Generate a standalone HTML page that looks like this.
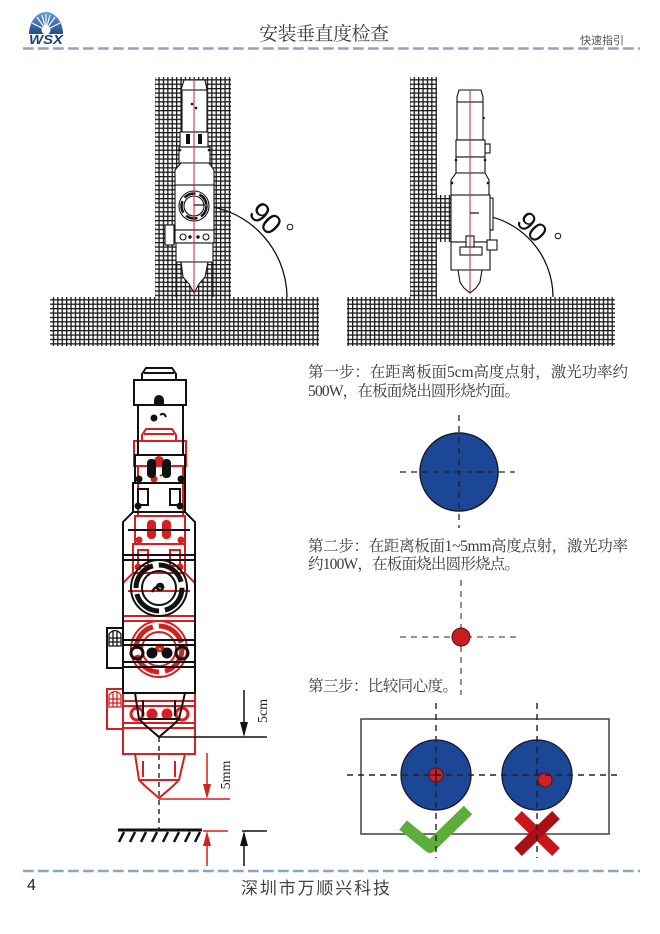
<!DOCTYPE html>
<html><head><meta charset="utf-8">
<style>
html,body{margin:0;padding:0;background:#fff;}
svg{display:block;}
.s{font-family:"Liberation Serif","Noto Serif CJK SC",serif;fill:#3a3a3a;}
.h{font-family:"Liberation Sans","Noto Sans CJK SC",sans-serif;}
</style></head><body>
<svg width="660" height="934" viewBox="0 0 660 934" xmlns="http://www.w3.org/2000/svg">
<defs>
<pattern id="mesh" width="4.4" height="4.4" patternUnits="userSpaceOnUse">
<rect width="4.4" height="4.4" fill="#1a1a1a"/>
<rect x="1.3" y="1.3" width="3.1" height="3.1" fill="#fff"/>
</pattern>
<linearGradient id="lg" x1="0" y1="0" x2="0" y2="1"><stop offset="0" stop-color="#6a9bd2"/><stop offset="1" stop-color="#1d4c8c"/></linearGradient>
<g id="bighead" fill="none" stroke="currentColor" stroke-width="2">
 <path d="M146,368 L172,368 L176,374 L176,380 L142,380 L142,374 Z"/>
 <line x1="144" y1="373" x2="174" y2="373"/>
 <rect x="134" y="380" width="52" height="25"/>
 <rect x="138" y="405" width="45" height="50"/>
 <path d="M155,400 a4,4 0 0 1 8,0 v4 h-8 Z" fill="currentColor"/>
 <circle cx="154" cy="418" r="2.5" fill="currentColor"/>
 <path d="M160,415 q4,-3 6,2" />
 <rect x="135" y="455" width="50" height="28"/>
 <rect x="148" y="460" width="7" height="17" rx="3" fill="currentColor"/>
 <rect x="163" y="460" width="7" height="17" rx="3" fill="currentColor"/>
 <circle cx="139" cy="479" r="2.5" fill="currentColor"/>
 <circle cx="181" cy="479" r="2.5" fill="currentColor"/>
 <rect x="133" y="483" width="52" height="29"/>
 <rect x="138" y="489" width="10" height="16"/>
 <rect x="170" y="489" width="10" height="16"/>
 <circle cx="138" cy="506" r="2.5" fill="currentColor"/>
 <circle cx="180" cy="506" r="2.5" fill="currentColor"/>
 <path d="M133,512 L185,512 L195,522 L195,555 L123,555 L123,522 Z"/>
 <line x1="128" y1="530" x2="190" y2="530"/>
 <rect x="123" y="555" width="72" height="138"/>
 <line x1="123" y1="560" x2="195" y2="560"/>
 <circle cx="159" cy="588" r="28"/>
 <circle cx="159" cy="588" r="23" stroke-width="5" stroke-dasharray="30 6"/>
 <circle cx="159" cy="588" r="17"/>
 <path d="M152,592 q5,-9 12,-4 M160,590 a3,3 0 1 1 0.1,0" stroke-width="2.5"/>
 <line x1="123" y1="640" x2="195" y2="640"/>
 <line x1="123" y1="645" x2="195" y2="645"/>
 <line x1="123" y1="662" x2="195" y2="662"/>
 <line x1="123" y1="667" x2="195" y2="667"/>
 <circle cx="137" cy="653" r="6" stroke-width="3"/>
 <circle cx="182" cy="653" r="6" stroke-width="3"/>
 <circle cx="152" cy="653" r="4.5" fill="currentColor"/>
 <circle cx="167" cy="653" r="4.5" fill="currentColor"/>
 <rect x="107" y="628" width="16" height="40"/>
 <path d="M109,646 L109,634 Q115,627 121,634 L121,646 Z M113,631 V646 M117,631 V646 M109,638 H121 M109,642 H121" stroke-width="1.3"/>
 <path d="M135,693 L185,693 L179,719 L173,725 L159,737 L145,725 L139,719 Z"/>
 <line x1="139" y1="719" x2="179" y2="719"/>
 <line x1="143" y1="700" x2="143" y2="716"/>
 <line x1="175" y1="700" x2="175" y2="716"/>
</g>
</defs>

<!-- header -->
<path d="M29,34 A17,22 0 0 1 63,34 Z" fill="url(#lg)"/>
<g stroke="#fff" stroke-width="1.2">
 <line x1="46" y1="30" x2="46" y2="14"/><line x1="46" y1="30" x2="37" y2="17"/><line x1="46" y1="30" x2="55" y2="17"/>
 <line x1="46" y1="30" x2="32" y2="23"/><line x1="46" y1="30" x2="60" y2="23"/><line x1="46" y1="30" x2="42" y2="15"/><line x1="46" y1="30" x2="50" y2="15"/>
</g>
<circle cx="46" cy="30" r="4.5" fill="#fff"/>
<text x="29" y="44" font-family="Liberation Sans,sans-serif" font-weight="bold" font-style="italic" font-size="13" fill="#1c3f7a" textLength="34" lengthAdjust="spacingAndGlyphs">WSX</text>
<text x="259" y="40" font-family="Liberation Serif,'Noto Serif CJK SC',serif" font-size="19" fill="#3c3c3c" textLength="130">安装垂直度检查</text>
<text x="580" y="44" class="h" font-size="11" fill="#555" textLength="44">快速指引</text>
<line x1="23" y1="48.5" x2="640" y2="48.5" stroke="#8fa3c4" stroke-width="2.6" stroke-dasharray="10.7 4.3"/>

<!-- top-left figure -->
<rect x="155" y="77" width="76" height="220" fill="url(#mesh)"/>
<rect x="50" y="297" width="269" height="49" fill="url(#mesh)"/>
<path d="M194,205 A93,93 0 0 1 287,297" fill="none" stroke="#111" stroke-width="1.3"/>
<line x1="176" y1="262" x2="176" y2="297" stroke="#111" stroke-width="1.1"/>
<line x1="213" y1="262" x2="213" y2="297" stroke="#111" stroke-width="1.1"/>
<g fill="#fff" stroke="#111" stroke-width="1.1">
 <path d="M184,80 L205,80 L207,90 L181,90 Z"/>
 <rect x="182" y="90" width="25" height="42"/>
 <rect x="180" y="132" width="28" height="15"/>
 <rect x="179" y="147" width="31" height="16"/>
 <path d="M181,163 L209,163 L214,170 L214,185 L175,185 L175,170 Z"/>
 <rect x="175" y="185" width="39" height="45"/>
 <rect x="175" y="230" width="39" height="13"/>
 <rect x="176" y="243" width="37" height="19"/>
 <path d="M181,262 L208,262 L205,277 L199,284 L194,293 L189,284 L183,277 Z"/>
 <rect x="165" y="225" width="9" height="20"/>
 <circle cx="194" cy="206" r="15"/>
 <circle cx="194" cy="206" r="10"/>
 <circle cx="183" cy="237" r="3"/><circle cx="206" cy="237" r="3"/>
</g>
<g fill="#111">
 <rect x="186" y="134" width="4" height="10"/><rect x="198" y="134" width="4" height="10"/>
 <circle cx="190" cy="237" r="1.7"/><circle cx="198" cy="237" r="1.7"/>
 <circle cx="192" cy="104" r="1.3"/><circle cx="196" cy="108" r="1.3"/>
 <circle cx="180" cy="150" r="1.3"/><circle cx="209" cy="150" r="1.3"/>
</g>
<circle cx="194" cy="206" r="12.5" fill="none" stroke="#111" stroke-width="2.5" stroke-dasharray="12 4"/>
<line x1="194" y1="79" x2="194" y2="297" stroke="#d42020" stroke-width="1"/>
<line x1="194" y1="205" x2="208" y2="205" stroke="#111" stroke-width="1.2"/>
<text transform="translate(265,219) rotate(45)" text-anchor="middle" dominant-baseline="central" font-family="Liberation Sans,sans-serif" font-size="29" fill="#111">90</text>
<circle cx="290" cy="227" r="2.8" fill="none" stroke="#111" stroke-width="1"/>

<!-- top-right figure -->
<rect x="410" y="77" width="27" height="220" fill="url(#mesh)"/>
<rect x="437" y="195" width="14" height="47" fill="url(#mesh)"/>
<rect x="347" y="297" width="268" height="49" fill="url(#mesh)"/>
<path d="M470,214 A83,83 0 0 1 553,297" fill="none" stroke="#111" stroke-width="1.3"/>
<g fill="#fff" stroke="#111" stroke-width="1.1">
 <path d="M459,90 L481,90 L483,97 L483,102 L457,102 L457,97 Z"/>
 <rect x="457" y="102" width="26" height="38"/>
 <rect x="485" y="144" width="5" height="9"/>
 <rect x="456" y="140" width="29" height="17"/>
 <rect x="456" y="157" width="29" height="16"/>
 <path d="M456,173 L485,173 L489,180 L489,195 L451,195 L451,180 Z"/>
 <rect x="489" y="198" width="4" height="32"/>
 <rect x="451" y="195" width="39" height="47"/>
 <rect x="451" y="242" width="39" height="28"/>
 <rect x="487" y="240" width="10" height="10"/>
 <rect x="460" y="247" width="22" height="8"/>
 <rect x="466" y="236" width="8" height="11"/>
 <path d="M458,270 L482,270 L480,282 L476,288 L470,293 L464,288 L460,282 Z"/>
</g>
<g fill="#111">
 <circle cx="456" cy="160" r="1.3"/><circle cx="485" cy="160" r="1.3"/>
 <circle cx="452" cy="183" r="1.3"/><circle cx="488" cy="183" r="1.3"/>
 <circle cx="484" cy="118" r="1"/>
</g>
<line x1="470" y1="90" x2="470" y2="293" stroke="#d42020" stroke-width="1"/>
<line x1="470" y1="213" x2="479" y2="213" stroke="#111" stroke-width="1.2"/>
<text transform="translate(532,227) rotate(45)" text-anchor="middle" dominant-baseline="central" font-family="Liberation Sans,sans-serif" font-size="27" fill="#111">90</text>
<circle cx="558" cy="236" r="2.8" fill="none" stroke="#111" stroke-width="1"/>

<!-- big left drawing -->
<use href="#bighead" transform="translate(0,61)" color="#d81e1e"/>
<use href="#bighead" color="#111"/>
<line x1="159" y1="737" x2="159" y2="830" stroke="#111" stroke-width="1.3" stroke-dasharray="5 4"/>
<line x1="159" y1="737" x2="267" y2="737" stroke="#111" stroke-width="1.5"/>
<line x1="244" y1="690" x2="244" y2="725" stroke="#111" stroke-width="1.5"/>
<polygon points="240,722 248,722 244,737" fill="#111"/>
<text transform="translate(267,711) rotate(-90)" text-anchor="middle" class="s" font-size="14" style="fill:#222">5cm</text>
<line x1="159" y1="799" x2="230" y2="799" stroke="#d81e1e" stroke-width="1.5"/>
<line x1="207" y1="753" x2="207" y2="786" stroke="#d81e1e" stroke-width="1.5"/>
<polygon points="203,784 211,784 207,799" fill="#d81e1e"/>
<text transform="translate(230,775) rotate(-90)" text-anchor="middle" class="s" font-size="14" style="fill:#222">5mm</text>
<line x1="118" y1="830" x2="202" y2="830" stroke="#111" stroke-width="3"/>
<g stroke="#111" stroke-width="2.5">
 <line x1="124" y1="832" x2="119" y2="842"/><line x1="135" y1="832" x2="130" y2="842"/>
 <line x1="146" y1="832" x2="141" y2="842"/><line x1="157" y1="832" x2="152" y2="842"/>
 <line x1="168" y1="832" x2="163" y2="842"/><line x1="179" y1="832" x2="174" y2="842"/>
 <line x1="190" y1="832" x2="185" y2="842"/><line x1="200" y1="832" x2="195" y2="842"/>
</g>
<line x1="203" y1="831" x2="228" y2="831" stroke="#d81e1e" stroke-width="1.5"/>
<line x1="207" y1="843" x2="207" y2="866" stroke="#d81e1e" stroke-width="1.5"/>
<polygon points="203,846 211,846 207,831" fill="#d81e1e"/>
<line x1="242" y1="831" x2="267" y2="831" stroke="#111" stroke-width="1.5"/>
<line x1="244" y1="843" x2="244" y2="866" stroke="#111" stroke-width="1.5"/>
<polygon points="240,846 248,846 244,831" fill="#111"/>

<!-- right column -->
<text x="308" y="377" class="s" font-size="15.5" textLength="320">第一步：在距离板面5cm高度点射，激光功率约</text>
<text x="308" y="396" class="s" font-size="15.5" textLength="212">500W，在板面烧出圆形烧灼面。</text>
<circle cx="459" cy="472" r="39" fill="#1c4796" stroke="#1a1a2a" stroke-width="1.5"/>
<g stroke="#222" stroke-width="1.3" stroke-dasharray="6 5">
 <line x1="400" y1="472" x2="515" y2="472"/>
 <line x1="459" y1="415" x2="459" y2="528"/>
</g>
<text x="308" y="551" class="s" font-size="15.5" textLength="320">第二步：在距离板面1~5mm高度点射，激光功率</text>
<text x="308" y="569" class="s" font-size="15.5" textLength="212">约100W，在板面烧出圆形烧点。</text>
<g stroke="#555" stroke-width="1.3" stroke-dasharray="6 5">
 <line x1="400" y1="637" x2="518" y2="637"/>
 <line x1="461" y1="580" x2="461" y2="695"/>
</g>
<circle cx="461" cy="637" r="9" fill="#c81e22" stroke="#5a1010" stroke-width="1"/>
<text x="308" y="691" class="s" font-size="15.5" textLength="150">第三步：比较同心度。</text>

<rect x="361" y="719" width="248" height="115" fill="none" stroke="#4d3b3b" stroke-width="1.5"/>
<circle cx="436" cy="775" r="35" fill="#1c4796" stroke="#1a1a2a" stroke-width="1.3"/>
<circle cx="537" cy="775" r="35" fill="#1c4796" stroke="#1a1a2a" stroke-width="1.3"/>
<polyline points="403,825 430,847 468,810" fill="none" stroke="#5cad3a" stroke-width="12" stroke-linejoin="round"/>
<line x1="518" y1="815" x2="556" y2="852" stroke="#c8161c" stroke-width="11"/>
<line x1="556" y1="815" x2="518" y2="852" stroke="#a81016" stroke-width="11"/>
<circle cx="436" cy="775" r="7" fill="#d42024" stroke="#5a1010" stroke-width="1"/>
<circle cx="545" cy="780" r="7" fill="#d42024" stroke="#5a1010" stroke-width="1"/>
<g stroke="#222" stroke-width="1.4" stroke-dasharray="6 5">
 <line x1="347" y1="775" x2="620" y2="775"/>
 <line x1="436" y1="703" x2="436" y2="858"/>
 <line x1="537" y1="703" x2="537" y2="858"/>
</g>
<g stroke="#111" stroke-width="1">
 <line x1="431" y1="775" x2="441" y2="775"/><line x1="436" y1="770" x2="436" y2="780"/>
</g>

<!-- footer -->
<line x1="23" y1="871" x2="640" y2="871" stroke="#8fa3c4" stroke-width="2.6" stroke-dasharray="10.7 4.3"/>
<text x="27" y="890" font-family="Liberation Sans,sans-serif" font-size="16" fill="#222">4</text>
<text x="241" y="894" class="h" font-size="17" fill="#444" textLength="149">深圳市万顺兴科技</text>
</svg>
</body></html>
